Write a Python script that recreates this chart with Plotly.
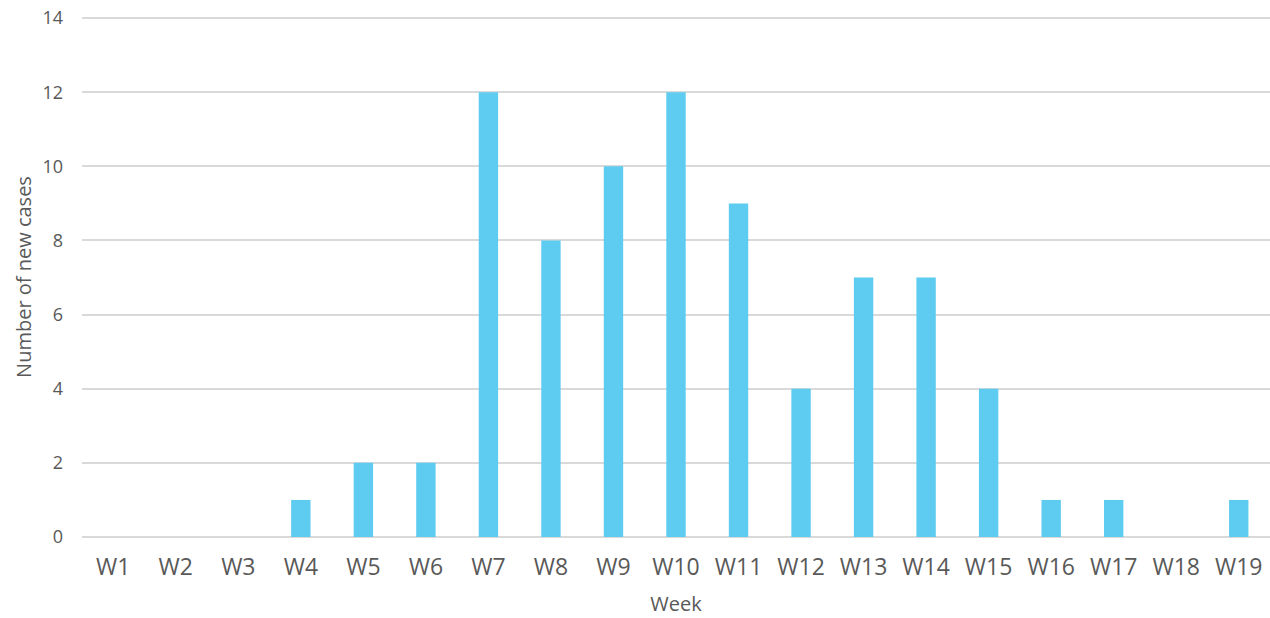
import plotly.graph_objects as go

weeks = ["W1", "W2", "W3", "W4", "W5", "W6", "W7", "W8", "W9", "W10",
         "W11", "W12", "W13", "W14", "W15", "W16", "W17", "W18", "W19"]
new_cases = [0, 0, 0, 1, 2, 2, 12, 8, 10, 12, 9, 4, 7, 7, 4, 1, 1, 0, 1]
y_ticks = [0, 2, 4, 6, 8, 10, 12, 14]

fig = go.Figure()
fig.add_trace(go.Bar(x=weeks, y=new_cases, marker=dict(color="#5DCCF0", line=dict(width=0)),
                     cliponaxis=False))

fig.update_layout(
    width=1270, height=618,
    margin=dict(l=82, r=0, t=17, b=81, autoexpand=False),
    paper_bgcolor="white", plot_bgcolor="white",
    bargap=0.69,
    showlegend=False,
    font=dict(family="'Open Sans', Roboto, sans-serif", color="#595959"),
)
fig.update_xaxes(
    type="category", automargin=False,
    showgrid=False, showline=False, zeroline=False,
    tickfont=dict(size=23, color="#595959"),
    ticks="", ticklabelstandoff=14,
    title=dict(text="Week", font=dict(size=20, color="#595959"), standoff=15),
)
fig.update_yaxes(
    range=[0, 14.03], tickvals=y_ticks, automargin=False,
    showgrid=True, gridcolor="#D9D9D9", gridwidth=1.6,
    zeroline=True, zerolinecolor="#D9D9D9", zerolinewidth=1.6,
    showline=False, ticks="",
    tickfont=dict(size=18, color="#595959"),
    ticklabelstandoff=18, ticklabeloverflow="allow",
    title=dict(text="Number of new cases", font=dict(size=20, color="#595959"), standoff=5),
)

fig.write_html("out.html", config={"displayModeBar": False},
               post_script="document.body.style.margin='0';")
